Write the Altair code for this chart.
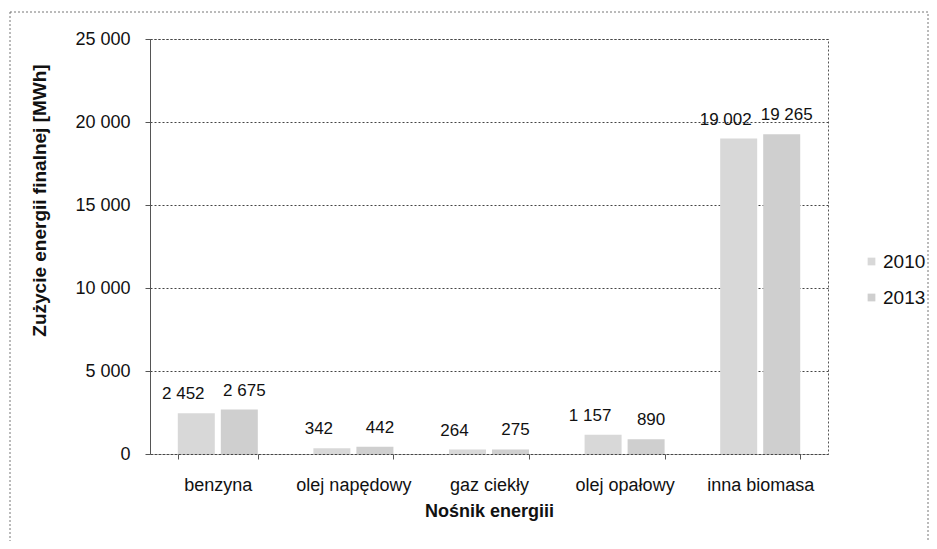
import altair as alt
import pandas as pd

categories = ["benzyna", "olej napędowy", "gaz ciekły", "olej opałowy", "inna biomasa"]
years = ["2010", "2013"]
values_2010 = [2452, 342, 264, 1157, 19002]
values_2013 = [2675, 442, 275, 890, 19265]
y_ticks = [0, 5000, 10000, 15000, 20000, 25000]

rows = []
for c, a, b in zip(categories, values_2010, values_2013):
    rows.append({"cat": c, "year": "2010", "value": a})
    rows.append({"cat": c, "year": "2013", "value": b})
df = pd.DataFrame(rows)
df["label"] = df["value"].map(lambda v: f"{v:,}".replace(",", " "))

FONT = "Liberation Sans"

x_enc = alt.X("cat:N", sort=categories, title="Nośnik energiii",
              scale=alt.Scale(paddingInner=0.41, paddingOuter=0.205),
              axis=alt.Axis(labelAngle=0, tickBand="extent", labelFontSize=18,
                            labelPadding=17, tickSize=5, tickColor="#555555",
                            domain=False, titleFontSize=18, titleFontWeight="bold",
                            titlePadding=8, labelColor="#111111", titleColor="#111111"))
xo_enc = alt.XOffset("year:N", sort=years,
                     scale=alt.Scale(paddingInner=0.14, paddingOuter=0))
y_enc = alt.Y("value:Q", title="Zużycie energii finalnej [MWh]",
              scale=alt.Scale(domain=[0, 25000], nice=False),
              axis=alt.Axis(values=y_ticks,
                            labelExpr="replace(format(datum.value, ','), ',', ' ')",
                            labelFontSize=18, labelPadding=15, tickSize=5,
                            tickColor="#555555", domainColor="#555555",
                            gridColor="#444444", gridDash=[2, 2], gridWidth=1,
                            titleFontSize=19, titleFontWeight="bold",
                            titleX=-101, titleY=161, labelColor="#111111",
                            titleColor="#111111"))

bars = alt.Chart(df).mark_bar(size=37).encode(
    x=x_enc, xOffset=xo_enc, y=y_enc,
    color=alt.Color("year:N", sort=years,
                    scale=alt.Scale(domain=years, range=["#d8d8d8", "#cfcfcf"]),
                    legend=alt.Legend(title=None, orient="none", legendX=712,
                                      legendY=213, symbolType="square",
                                      symbolSize=60, labelFontSize=19,
                                      rowPadding=16, labelOffset=2,
                                      labelColor="#111111", labelFont=FONT)),
)


def label_layer(year, dx):
    return alt.Chart(df).transform_filter(
        alt.datum.year == year
    ).mark_text(baseline="bottom", dy=-10, dx=dx, fontSize=17,
                font=FONT, color="#111111").encode(
        x=alt.X("cat:N", sort=categories),
        xOffset=alt.XOffset("year:N", sort=years),
        y="value:Q",
        text="label:N",
    )


frame = alt.Chart(pd.DataFrame({"f": [0]})).mark_rect(
    fill=None, stroke="#777777", strokeDash=[2, 2], strokeWidth=1
).encode(x=alt.value(-140), x2=alt.value(778), y=alt.value(-27), y2=alt.value(520))

chart = alt.layer(frame, bars, label_layer("2010", -13), label_layer("2013", 5)).properties(
    width=678, height=415,
    autosize=alt.AutoSizeParams(type="none"),
    padding={"left": 142, "top": 31, "right": 101, "bottom": 87},
).configure(font=FONT).configure_view(
    stroke="#555555", strokeDash=[2, 2], strokeWidth=1
).configure_axis(labelFont=FONT, titleFont=FONT)

chart.save("out.html", embed_options={"renderer": "svg", "actions": False})
